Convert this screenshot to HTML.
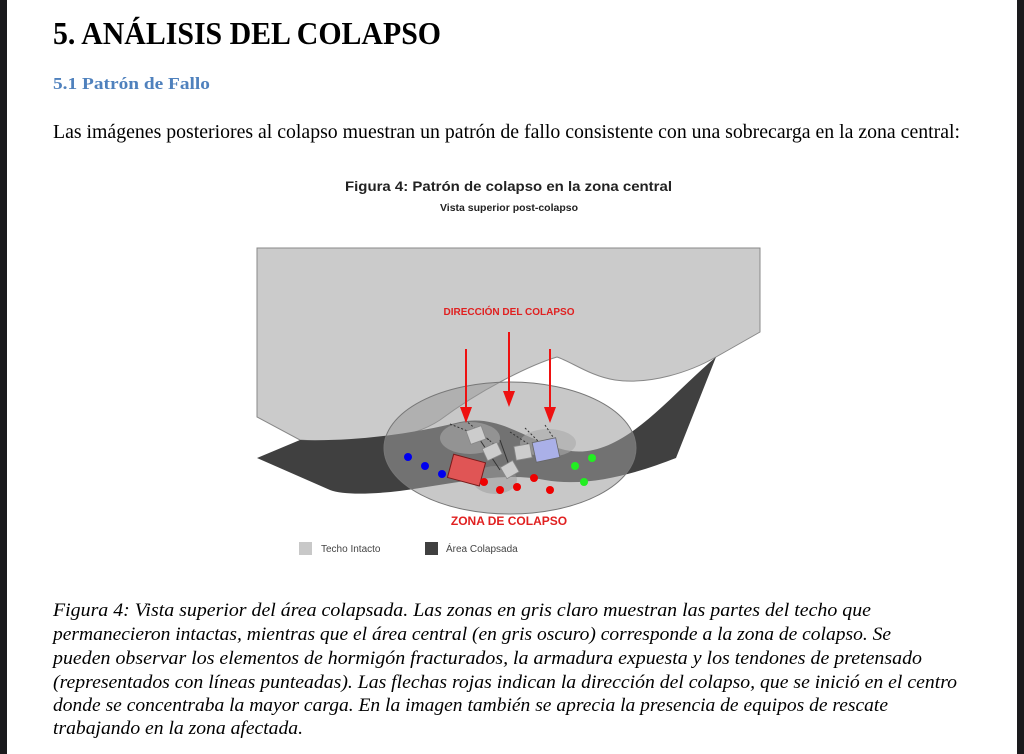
<!DOCTYPE html>
<html><head><meta charset="utf-8"><style>
html,body{margin:0;padding:0;background:#fff;}
svg{display:block;}
</style></head><body>
<svg width="1024" height="754" viewBox="0 0 1024 754" xmlns="http://www.w3.org/2000/svg">
<rect x="0" y="0" width="1024" height="754" fill="#fff"/>
<rect x="0" y="0" width="7" height="754" fill="#1a1a1c"/>
<rect x="1017" y="0" width="7" height="754" fill="#1a1a1c"/>

<g font-family="Liberation Serif, serif" fill="#000">
<text x="53" y="44" font-size="32" font-weight="bold" textLength="388" lengthAdjust="spacingAndGlyphs">5. ANÁLISIS DEL COLAPSO</text>
<text x="53" y="89" font-size="17" font-weight="bold" fill="#4f81bd" textLength="157" lengthAdjust="spacingAndGlyphs">5.1 Patrón de Fallo</text>
<text x="53" y="138" font-size="20" textLength="907" lengthAdjust="spacingAndGlyphs">Las imágenes posteriores al colapso muestran un patrón de fallo consistente con una sobrecarga en la zona central:</text>
<g font-size="19" font-style="italic">
<text x="53" y="616" textLength="818" lengthAdjust="spacingAndGlyphs">Figura 4: Vista superior del área colapsada. Las zonas en gris claro muestran las partes del techo que</text>
<text x="53" y="640" textLength="838" lengthAdjust="spacingAndGlyphs">permanecieron intactas, mientras que el área central (en gris oscuro) corresponde a la zona de colapso. Se</text>
<text x="53" y="664" textLength="869" lengthAdjust="spacingAndGlyphs">pueden observar los elementos de hormigón fracturados, la armadura expuesta y los tendones de pretensado</text>
<text x="53" y="688" textLength="904" lengthAdjust="spacingAndGlyphs">(representados con líneas punteadas). Las flechas rojas indican la dirección del colapso, que se inició en el centro</text>
<text x="53" y="711" textLength="835" lengthAdjust="spacingAndGlyphs">donde se concentraba la mayor carga. En la imagen también se aprecia la presencia de equipos de rescate</text>
<text x="53" y="734" textLength="250" lengthAdjust="spacingAndGlyphs">trabajando en la zona afectada.</text>
</g>
</g>

<g font-family="Liberation Sans, sans-serif">
<text x="345" y="191" font-size="14" font-weight="bold" fill="#222" textLength="327" lengthAdjust="spacingAndGlyphs">Figura 4: Patrón de colapso en la zona central</text>
<text x="440" y="211" font-size="10" font-weight="bold" fill="#222" textLength="138" lengthAdjust="spacingAndGlyphs">Vista superior post-colapso</text>
</g>

<!-- light roof -->
<path d="M257,248 L760,248 L760,332 L716,357 C690,372 650,385 615,380 C590,376 572,362 557,357 C530,365 480,390 440,420 C410,440 360,445 300,440 L257,417 Z" fill="#cbcbcb" stroke="#888" stroke-width="1"/>
<!-- dark band -->
<path d="M257,458 L300,440 C360,442 420,432 460,422 C500,414 525,440 565,450 C620,462 665,400 716,357 L676,458 C640,472 590,488 545,480 C505,472 462,482 420,488 C385,494 345,496 330,490 Z" fill="#404040"/>
<!-- ellipse -->
<ellipse cx="510" cy="448" rx="126" ry="66" fill="#9a9a9a" fill-opacity="0.55" stroke="#777" stroke-width="1"/>
<ellipse cx="470" cy="438" rx="30" ry="16" fill="#aaa" fill-opacity="0.6"/>
<ellipse cx="548" cy="443" rx="28" ry="14" fill="#aaa" fill-opacity="0.6"/>
<ellipse cx="495" cy="480" rx="22" ry="14" fill="#999" fill-opacity="0.5"/>
<!-- dashed tendons -->
<g stroke="#333" stroke-width="1" stroke-dasharray="2,2" fill="none">
<line x1="450" y1="424" x2="490" y2="440"/><line x1="465" y1="420" x2="495" y2="445"/>
<line x1="510" y1="432" x2="530" y2="445"/><line x1="525" y1="428" x2="545" y2="448"/>
<line x1="545" y1="425" x2="555" y2="440"/>
</g>
<g stroke="#333" stroke-width="1">
<line x1="480" y1="440" x2="500" y2="470"/><line x1="500" y1="440" x2="510" y2="468"/>
</g>
<!-- debris -->
<g fill="#ccc" stroke="#888" stroke-width="0.8">
<rect x="468" y="428" width="16" height="14" transform="rotate(-20 476 435)"/>
<rect x="484" y="445" width="16" height="13" transform="rotate(-25 492 451)"/>
<rect x="515" y="445" width="16" height="14" transform="rotate(-10 523 452)"/>
<rect x="503" y="463" width="14" height="13" transform="rotate(-30 510 470)"/>
</g>
<rect x="534" y="440" width="24" height="20" fill="#aab0e8" stroke="#666" stroke-width="0.8" transform="rotate(-12 546 450)"/>
<rect x="450" y="458" width="33" height="24" fill="#e05555" stroke="#7a1a1a" stroke-width="1" transform="rotate(15 466 470)"/>
<!-- dots -->
<g fill="#0000ee"><circle cx="408" cy="457" r="4"/><circle cx="425" cy="466" r="4"/><circle cx="442" cy="474" r="4"/></g>
<g fill="#ee0000"><circle cx="484" cy="482" r="4"/><circle cx="500" cy="490" r="4"/><circle cx="517" cy="487" r="4"/><circle cx="534" cy="478" r="4"/><circle cx="550" cy="490" r="4"/></g>
<g fill="#22ee22"><circle cx="575" cy="466" r="4"/><circle cx="592" cy="458" r="4"/><circle cx="584" cy="482" r="4"/></g>
<!-- arrows -->
<g stroke="#ee1111" stroke-width="2"><line x1="466" y1="349" x2="466" y2="410"/><line x1="509" y1="332" x2="509" y2="394"/><line x1="550" y1="349" x2="550" y2="410"/></g>
<g fill="#ee1111"><path d="M460,407 L472,407 L466,423 Z"/><path d="M503,391 L515,391 L509,407 Z"/><path d="M544,407 L556,407 L550,423 Z"/></g>
<g font-family="Liberation Sans, sans-serif" font-weight="bold" fill="#e02020" text-anchor="middle">
<text x="509" y="315" font-size="10">DIRECCIÓN DEL COLAPSO</text>
<text x="509" y="525" font-size="12">ZONA DE COLAPSO</text>
</g>
<!-- legend -->
<rect x="299" y="542" width="13" height="13" fill="#c8c8c8"/>
<rect x="425" y="542" width="13" height="13" fill="#404040"/>
<g font-family="Liberation Sans, sans-serif" font-size="10" fill="#444">
<text x="321" y="552">Techo Intacto</text>
<text x="446" y="552">Área Colapsada</text>
</g>
</svg>
</body></html>
